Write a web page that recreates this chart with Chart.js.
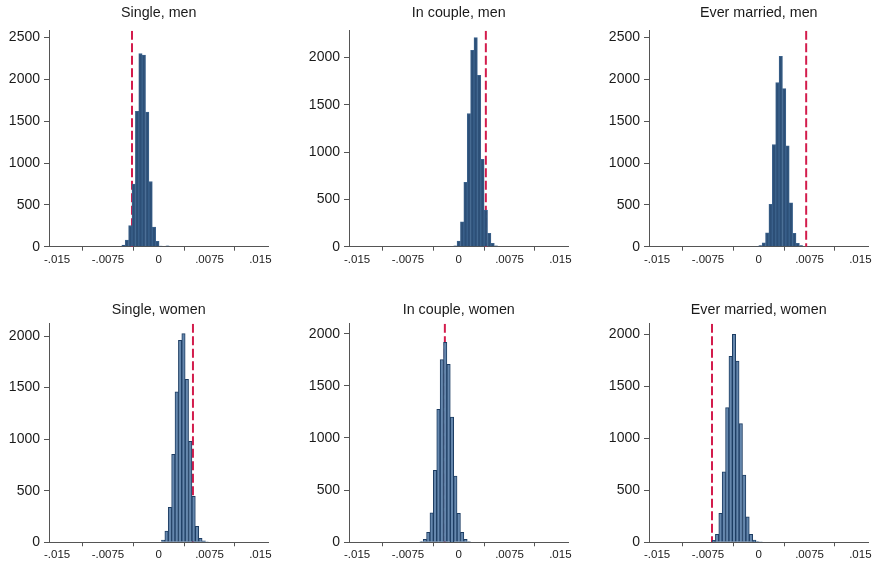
<!DOCTYPE html>
<html lang="en">
<head>
<meta charset="UTF-8" />
<title>Placebo distributions by status</title>
<script src="https://cdn.jsdelivr.net/npm/chart.js"></script>
<style>
  body { margin: 0; background: #fff; }
  #wrap { position: relative; width: 876px; height: 563px; overflow: hidden; }
  #wrap canvas { position: absolute; }
</style>
</head>
<body>
<div id="wrap"></div>
<script>
// histogram bin centres and counts for each panel
const singleMenBins   = [-0.0052, -0.0047, -0.0042, -0.0037, -0.0032, -0.0027, -0.0022, -0.0017, -0.0012, -0.0007, -0.0002, 0.0003, 0.0008, 0.0013];
const singleMenCounts = [18, 78, 253, 750, 1620, 2310, 2290, 1610, 780, 235, 65, 8, 0, 10];
const singleMenLine   = -0.00395;

const coupleMenBins   = [-0.0005, 0, 0.0005, 0.001, 0.0015, 0.002, 0.0025, 0.003, 0.0035, 0.004, 0.0045, 0.005, 0.0055];
const coupleMenCounts = [8, 60, 262, 680, 1409, 2077, 2211, 1813, 923, 388, 141, 36, 8];
const coupleMenLine   = 0.004;

const marriedMenBins   = [-0.00025, 0.00025, 0.00075, 0.00125, 0.00175, 0.00225, 0.00275, 0.00325, 0.00375, 0.00425, 0.00475, 0.00525, 0.00575, 0.00625];
const marriedMenCounts = [5, 12, 45, 165, 507, 1222, 1963, 2275, 1890, 1205, 525, 160, 40, 12];
const marriedMenLine   = 0.0070;

const singleWomenBins   = [0.00065, 0.00115, 0.00165, 0.00215, 0.00265, 0.00315, 0.00365, 0.00415, 0.00465, 0.00515, 0.00565, 0.00615, 0.00665, 0.00715];
const singleWomenCounts = [22, 109, 339, 852, 1458, 1958, 2023, 1580, 980, 445, 155, 39, 15, 4];
const singleWomenLine   = 0.00505;

const coupleWomenBins   = [-0.0055, -0.005, -0.0045, -0.004, -0.0035, -0.003, -0.0025, -0.002, -0.0015, -0.001, -0.0005, 0, 0.0005, 0.001, 0.0015];
const coupleWomenCounts = [8, 29, 96, 283, 691, 1274, 1752, 1918, 1705, 1201, 634, 277, 96, 29, 6];
const coupleWomenLine   = -0.00205;

const marriedWomenBins   = [-0.00665, -0.00615, -0.00565, -0.00515, -0.00465, -0.00415, -0.00365, -0.00315, -0.00265, -0.00215, -0.00165, -0.00115, -0.00065, -0.00015, 0.00035];
const marriedWomenCounts = [20, 77, 278, 678, 1296, 1788, 2000, 1743, 1142, 646, 246, 77, 22, 8, 4];
const marriedWomenLine   = -0.0069;

const xTicks = [-0.015, -0.0075, 0, 0.0075, 0.015];
const xTickLabels = ['-.015', '-.0075', '0', '.0075', '.015'];
const yTicksTall = [0, 500, 1000, 1500, 2000, 2500];
const yTicksShort = [0, 500, 1000, 1500, 2000];

const panels = [
  { title: 'Single, men',          bins: singleMenBins,    counts: singleMenCounts,    line: singleMenLine,    yMax: 2581, yTicks: yTicksTall,  row: 0, col: 0 },
  { title: 'In couple, men',       bins: coupleMenBins,    counts: coupleMenCounts,    line: coupleMenLine,    yMax: 2283, yTicks: yTicksShort, row: 0, col: 1 },
  { title: 'Ever married, men',    bins: marriedMenBins,   counts: marriedMenCounts,   line: marriedMenLine,   yMax: 2581, yTicks: yTicksTall,  row: 0, col: 2 },
  { title: 'Single, women',        bins: singleWomenBins,  counts: singleWomenCounts,  line: singleWomenLine,  yMax: 2120, yTicks: yTicksShort, row: 1, col: 0 },
  { title: 'In couple, women',     bins: coupleWomenBins,  counts: coupleWomenCounts,  line: coupleWomenLine,  yMax: 2096, yTicks: yTicksShort, row: 1, col: 1 },
  { title: 'Ever married, women',  bins: marriedWomenBins, counts: marriedWomenCounts, line: marriedWomenLine, yMax: 2103, yTicks: yTicksShort, row: 1, col: 2 }
];

// layout of the 2x3 grid
const colLeft = [0, 300, 600];
const colWidth = [292, 292, 276];
const rowTop = [0, 290];
const rowHeight = [270, 273];
const rowPadBottom = [3.3, 0.7];
const rowTitlePad = [{ top: 4.4, bottom: 9.3 }, { top: 11.6, bottom: 4.9 }];
const rowFill = ['#2c4f77', '#6587ad'];
const rowEdge = ['#3b628c', '#1d3d63'];
const plotWidth = 219.5;
const axisColor = '#555';
const font = "'Liberation Sans', Arial, sans-serif";

const wrap = document.getElementById('wrap');

panels.forEach(p => {
  const canvas = document.createElement('canvas');
  const w = colWidth[p.col], h = rowHeight[p.row];
  canvas.width = w;
  canvas.height = h;
  canvas.style.left = colLeft[p.col] + 'px';
  canvas.style.top = rowTop[p.row] + 'px';
  wrap.appendChild(canvas);

  new Chart(canvas.getContext('2d'), {
    type: 'bar',
    data: {
      datasets: [
        {
          data: p.bins.map((b, i) => ({ x: b, y: p.counts[i] })),
          backgroundColor: rowFill[p.row],
          borderColor: rowEdge[p.row],
          borderWidth: 1,
          barPercentage: 1,
          categoryPercentage: 1,
          order: 1
        },
        {
          // observed estimate, drawn behind the bars
          type: 'line',
          data: [{ x: p.line, y: p.yMax }, { x: p.line, y: 0 }],
          borderColor: '#d31c4c',
          borderWidth: 2,
          borderDash: [9, 3.5],
          pointRadius: 0,
          fill: false,
          order: 2
        }
      ]
    },
    options: {
      responsive: false,
      animation: false,
      devicePixelRatio: 1,
      layout: { padding: { left: 9, right: w - 49 - plotWidth, top: 0, bottom: rowPadBottom[p.row] } },
      plugins: {
        legend: { display: false },
        tooltip: { enabled: false },
        title: {
          display: true,
          text: p.title,
          fullSize: false,
          color: '#1a1a1a',
          font: { family: font, size: 14.3, weight: 'normal', lineHeight: 1.2 },
          padding: rowTitlePad[p.row]
        }
      },
      scales: {
        x: {
          type: 'linear',
          min: -0.0162,
          max: 0.0162,
          offset: false,
          afterBuildTicks: s => { s.ticks = xTicks.map(v => ({ value: v })); },
          afterFit: s => { s.height = 20; },
          ticks: {
            callback: v => xTickLabels[xTicks.indexOf(v)],
            color: '#1a1a1a',
            font: { family: font, size: 11.5 },
            padding: 2,
            maxRotation: 0,
            autoSkip: false
          },
          grid: { display: true, drawOnChartArea: false, drawTicks: true, tickLength: 4, color: axisColor },
          border: { display: true, color: axisColor, width: 1 }
        },
        y: {
          min: 0,
          max: p.yMax,
          afterBuildTicks: s => { s.ticks = p.yTicks.map(v => ({ value: v })); },
          afterFit: s => { s.width = 40; },
          ticks: {
            callback: v => String(v),
            color: '#1a1a1a',
            font: { family: font, size: 14 },
            padding: 4
          },
          grid: { display: true, drawOnChartArea: false, drawTicks: true, tickLength: 5, color: axisColor },
          border: { display: true, color: axisColor, width: 1 }
        }
      }
    }
  });
});
</script>
</body>
</html>
